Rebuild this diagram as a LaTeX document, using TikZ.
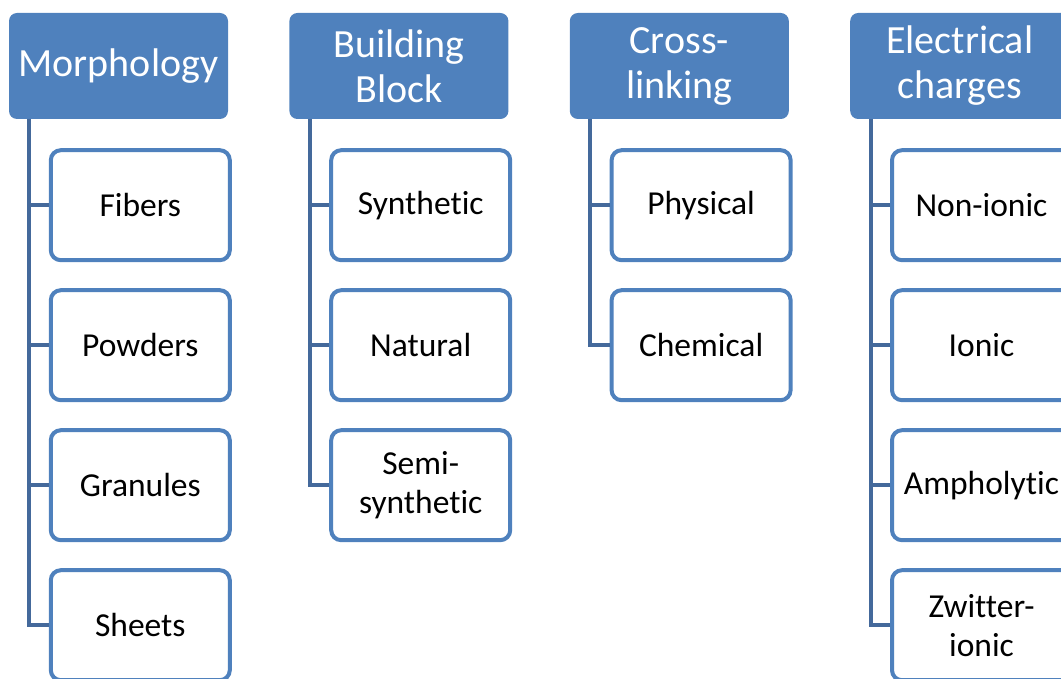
\documentclass[tikz,border=0pt]{standalone}
\usepackage{fontspec}
\setmainfont{Carlito}[Ligatures={NoCommon}]
\usetikzlibrary{positioning}
\definecolor{accent}{HTML}{4F81BD}
\definecolor{trunkblue}{HTML}{44699B}
\tikzset{
  headbox/.style={fill=accent, text=white, rounded corners=8pt, minimum width=219pt, minimum height=106pt,
    align=center, inner sep=0pt, font=\fontsize{40}{45}\selectfont},
  itembox/.style={draw=accent, line width=4pt, fill=white, rounded corners=10pt, minimum width=179pt,
    minimum height=110pt, align=center, inner sep=0pt, font=\fontsize{33.5}{39}\selectfont},
  trunk/.style={draw=trunkblue, line width=4pt}
}
\begin{document}
\begin{tikzpicture}
  \clip (0,0) rectangle (1061pt,-679pt);
  % headers
  \node[headbox] (morph) at (118.5pt,-66pt) {Morphology};
  \node[headbox, right=61pt of morph] (block) {Building\\Block};
  \node[headbox, right=61pt of block] (cross) {Cross-\\linking};
  \node[headbox, right=61pt of cross] (charge) {Electrical\\charges};

  % morphology
  \node[itembox, below right=29pt and 40pt of morph.south west] (fibers) {Fibers};
  \node[itembox, below=26pt of fibers] (powders) {Powders};
  \node[itembox, below=26pt of powders] (granules) {Granules};
  \node[itembox, below=26pt of granules] (sheets) {Sheets};
  \coordinate (mstem) at ([xshift=20.5pt]morph.south west);
  \draw[trunk] (mstem) |- (sheets.west);
  \draw[trunk] (mstem |- fibers.west) -- (fibers.west);
  \draw[trunk] (mstem |- powders.west) -- (powders.west);
  \draw[trunk] (mstem |- granules.west) -- (granules.west);

  % building block
  \node[itembox, below right=29pt and 40pt of block.south west] (synth) {Synthetic};
  \node[itembox, below=26pt of synth] (natural) {Natural};
  \node[itembox, below=26pt of natural] (semi) {Semi-\\synthetic};
  \coordinate (bstem) at ([xshift=20.5pt]block.south west);
  \draw[trunk] (bstem) |- (semi.west);
  \draw[trunk] (bstem |- synth.west) -- (synth.west);
  \draw[trunk] (bstem |- natural.west) -- (natural.west);

  % cross-linking
  \node[itembox, below right=29pt and 40pt of cross.south west] (phys) {Physical};
  \node[itembox, below=26pt of phys] (chem) {Chemical};
  \coordinate (cstem) at ([xshift=20.5pt]cross.south west);
  \draw[trunk] (cstem) |- (chem.west);
  \draw[trunk] (cstem |- phys.west) -- (phys.west);

  % electrical charges
  \node[itembox, below right=29pt and 40pt of charge.south west] (nonionic) {Non-ionic};
  \node[itembox, below=26pt of nonionic] (ionic) {Ionic};
  \node[itembox, below=26pt of ionic] (ampho) {Ampholytic};
  \node[itembox, below=26pt of ampho] (zwitter) {Zwitter-\\ionic};
  \coordinate (estem) at ([xshift=20.5pt]charge.south west);
  \draw[trunk] (estem) |- (zwitter.west);
  \draw[trunk] (estem |- nonionic.west) -- (nonionic.west);
  \draw[trunk] (estem |- ionic.west) -- (ionic.west);
  \draw[trunk] (estem |- ampho.west) -- (ampho.west);
\end{tikzpicture}
\end{document}
